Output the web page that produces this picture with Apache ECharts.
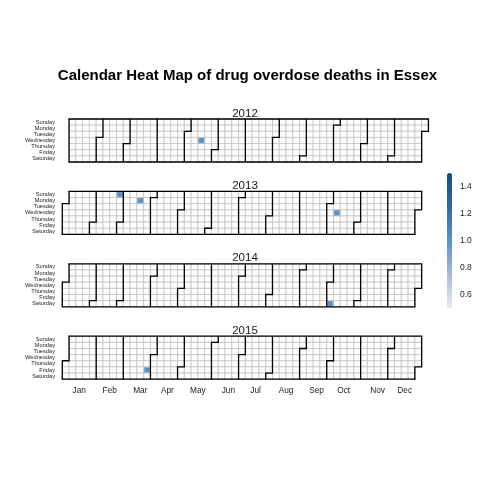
<!DOCTYPE html>
<html><head><meta charset="utf-8">
<script src="https://cdn.jsdelivr.net/npm/echarts@6/dist/echarts.min.js"></script>
<style>html,body{margin:0;padding:0;background:#fff}#c{width:480px;height:480px}</style>
</head><body><div id="c"></div>
<script>
// ---- data ----
const titleText = 'Calendar Heat Map of drug overdose deaths in Essex';
const years = ['2012', '2013', '2014', '2015'];
const dayNames = ['Sunday', 'Monday', 'Tuesday', 'Wednesday', 'Thursday', 'Friday', 'Saturday'];
const monthNames = ['Jan', 'Feb', 'Mar', 'Apr', 'May', 'Jun', 'Jul', 'Aug', 'Sep', 'Oct', 'Nov', 'Dec'];
const deathDates = ['2012-05-16', '2013-02-24', '2013-03-18', '2013-10-09', '2014-10-04', '2015-03-27'];
const deathCounts = [1, 1, 1, 1, 1, 1];
const legendMin = 0.5;
const legendMax = 1.5;
const legendTicks = [0.6, 0.8, 1.0, 1.2, 1.4];

// ---- layout ----
const FONT = '"Liberation Sans", Arial, Helvetica, sans-serif';
const X0 = 62.3;          // left edge of week-0 column (shared x scale)
const CW = 6.78, CH = 6.14;
const PANEL_TOP0 = 119, PANEL_STEP = 72.4;
const LABEL_RIGHT = 55;

const calendars = years.map((y, i) => {
  const jan1 = new Date(+y, 0, 1).getDay();
  const left = X0 + (jan1 === 0 ? CW : 0);
  return {
    orient: 'horizontal',
    range: y,
    left: left,
    top: PANEL_TOP0 + i * PANEL_STEP,
    cellSize: [CW, CH],
    splitLine: { show: true, lineStyle: { color: '#000', width: 1.3 } },
    itemStyle: { color: '#fff', borderColor: '#bdbdbd', borderWidth: 0.7 },
    dayLabel: { show: true, firstDay: 0, position: 'start', margin: left - LABEL_RIGHT,
      nameMap: dayNames, fontSize: 5.7, color: '#222', fontFamily: FONT },
    monthLabel: { show: i === years.length - 1, position: 'end', align: 'center',
      nameMap: monthNames, margin: 8, fontSize: 8.3, color: '#222', fontFamily: FONT },
    yearLabel: { show: false }
  };
});

const series = years.map((y, i) => ({
  type: 'heatmap',
  coordinateSystem: 'calendar',
  calendarIndex: i,
  data: deathDates.map((d, k) => [d, deathCounts[k]]).filter(p => p[0].slice(0, 4) === y),
  itemStyle: { borderColor: '#bdbdbd', borderWidth: 0.7 }
}));

const titles = [{
  text: titleText, left: 247.5, top: 68, textAlign: 'center', padding: 0,
  textStyle: { fontSize: 15, fontWeight: 'bold', color: '#000', fontFamily: FONT }
}].concat(years.map((y, i) => ({
  text: y, left: 245, top: PANEL_TOP0 + i * PANEL_STEP - 11.5, textAlign: 'center', padding: 0,
  textStyle: { fontSize: 11.5, fontWeight: 'normal', color: '#1a1a1a', fontFamily: FONT }
})));

const chart = echarts.init(document.getElementById('c'), null, { renderer: 'canvas' });
chart.setOption({
  animation: false,
  backgroundColor: '#fff',
  title: titles,
  calendar: calendars,
  visualMap: {
    type: 'continuous', min: legendMin, max: legendMax, calculable: false,
    orient: 'vertical', left: 447, top: 173, itemWidth: 5, itemHeight: 135,
    padding: 0, text: null, seriesIndex: [0, 1, 2, 3],
    inRange: { color: ['#ebe9f3', '#a6badc', '#5a92c6', '#2f6ba3', '#144a80'] }
  },
  grid: { left: 447, top: 173, width: 5, height: 135, show: false },
  xAxis: { type: 'value', show: false },
  yAxis: {
    type: 'value', min: legendMin, max: legendMax, position: 'right',
    axisLine: { show: false }, axisTick: { show: false }, splitLine: { show: false },
    axisLabel: { customValues: legendTicks, formatter: v => v.toFixed(1), margin: 8,
      fontSize: 8.5, color: '#1a1a1a', fontFamily: FONT }
  },
  series: series
});
</script></body></html>
